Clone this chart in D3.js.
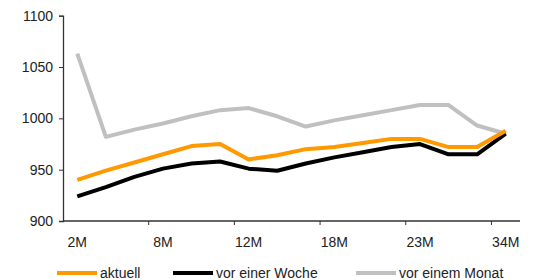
<!DOCTYPE html>
<html>
<head>
<meta charset="utf-8">
<script src="https://cdn.jsdelivr.net/npm/d3@7"></script>
<style>
  body { margin: 0; background: #fff; }
  text { font-family: "Liberation Sans", Arial, sans-serif; fill: #222; }
</style>
</head>
<body>
<svg id="chart" width="533" height="280"></svg>
<script>
var categories = ["2M","4M","6M","8M","9M","10M","12M","14M","16M","18M","20M","21M","23M","26M","30M","34M"];
var aktuell   = [940, 949, 957, 965, 973, 975, 960, 964, 970, 972, 976, 980, 980, 972, 972, 988];
var vorWoche  = [924, 933, 943, 951, 956, 958, 951, 949, 956, 962, 967, 972, 975, 965, 965, 985];
var vorMonat  = [1063, 982, 989, 995, 1002, 1008, 1010, 1002, 992, 998, 1003, 1008, 1013, 1013, 993, 985];
var yTicks = [900, 950, 1000, 1050, 1100];
var seriesNames = ["aktuell", "vor einer Woche", "vor einem Monat"];
var seriesColors = ["#ff9900", "#000000", "#c0c0c0"];

var svg = d3.select("#chart");
var plotLeft = 63, plotRight = 520, plotTop = 15.7, plotBottom = 221;

var x = d3.scaleBand().domain(categories).range([plotLeft, plotRight]).padding(0);
var y = d3.scaleLinear().domain([900, 1100]).range([plotBottom, plotTop]);

// y axis
var yAxis = svg.append("g").attr("transform", "translate(" + plotLeft + ",0)")
  .call(d3.axisLeft(y).tickValues(yTicks).tickSize(4).tickPadding(6).tickFormat(d3.format("d")));
yAxis.select(".domain").attr("stroke", "#333").attr("stroke-width", 1.3);
yAxis.selectAll(".tick line").attr("stroke", "#333");
yAxis.selectAll("text").attr("font-size", 14).attr("fill", "#222").style("font-family", "Liberation Sans, Arial, sans-serif");

// x axis line and tick marks between categories (every third)
svg.append("line")
  .attr("x1", plotLeft).attr("x2", plotRight)
  .attr("y1", plotBottom).attr("y2", plotBottom)
  .attr("stroke", "#333").attr("stroke-width", 1.3);

svg.selectAll(".xtick").data(categories.filter(function(d, i) { return i > 0 && i % 3 == 0; }))
  .enter().append("line")
  .attr("class", "xtick")
  .attr("x1", function(d) { return x(d); })
  .attr("x2", function(d) { return x(d); })
  .attr("y1", plotBottom).attr("y2", plotBottom + 4)
  .attr("stroke", "#333");

svg.selectAll(".xlabel").data(categories.filter(function(d, i) { return i % 3 == 0; }))
  .enter().append("text")
  .attr("class", "xlabel")
  .attr("x", function(d) { return x(d) + x.bandwidth() / 2; })
  .attr("y", 247)
  .attr("text-anchor", "middle")
  .attr("font-size", 14)
  .text(function(d) { return d; });

// lines
var line = d3.line()
  .x(function(d, i) { return x(categories[i]) + x.bandwidth() / 2; })
  .y(function(d) { return y(d); });

var drawOrder = [[vorMonat, 2], [vorWoche, 1], [aktuell, 0]];
drawOrder.forEach(function(s) {
  svg.append("path")
    .datum(s[0])
    .attr("fill", "none")
    .attr("stroke", seriesColors[s[1]])
    .attr("stroke-width", 4)
    .attr("stroke-linejoin", "round")
    .attr("d", line);
});

// legend
var legendX = [57, 173, 356];
var legend = svg.selectAll(".legend").data(seriesNames).enter().append("g")
  .attr("class", "legend")
  .attr("transform", function(d, i) { return "translate(" + legendX[i] + ",273)"; });

legend.append("line")
  .attr("x1", 0).attr("x2", 40)
  .attr("stroke", function(d, i) { return seriesColors[i]; })
  .attr("stroke-width", 4);

legend.append("text")
  .attr("x", 43)
  .attr("y", 5)
  .attr("font-size", 14)
  .text(function(d) { return d; });
</script>
</body>
</html>
